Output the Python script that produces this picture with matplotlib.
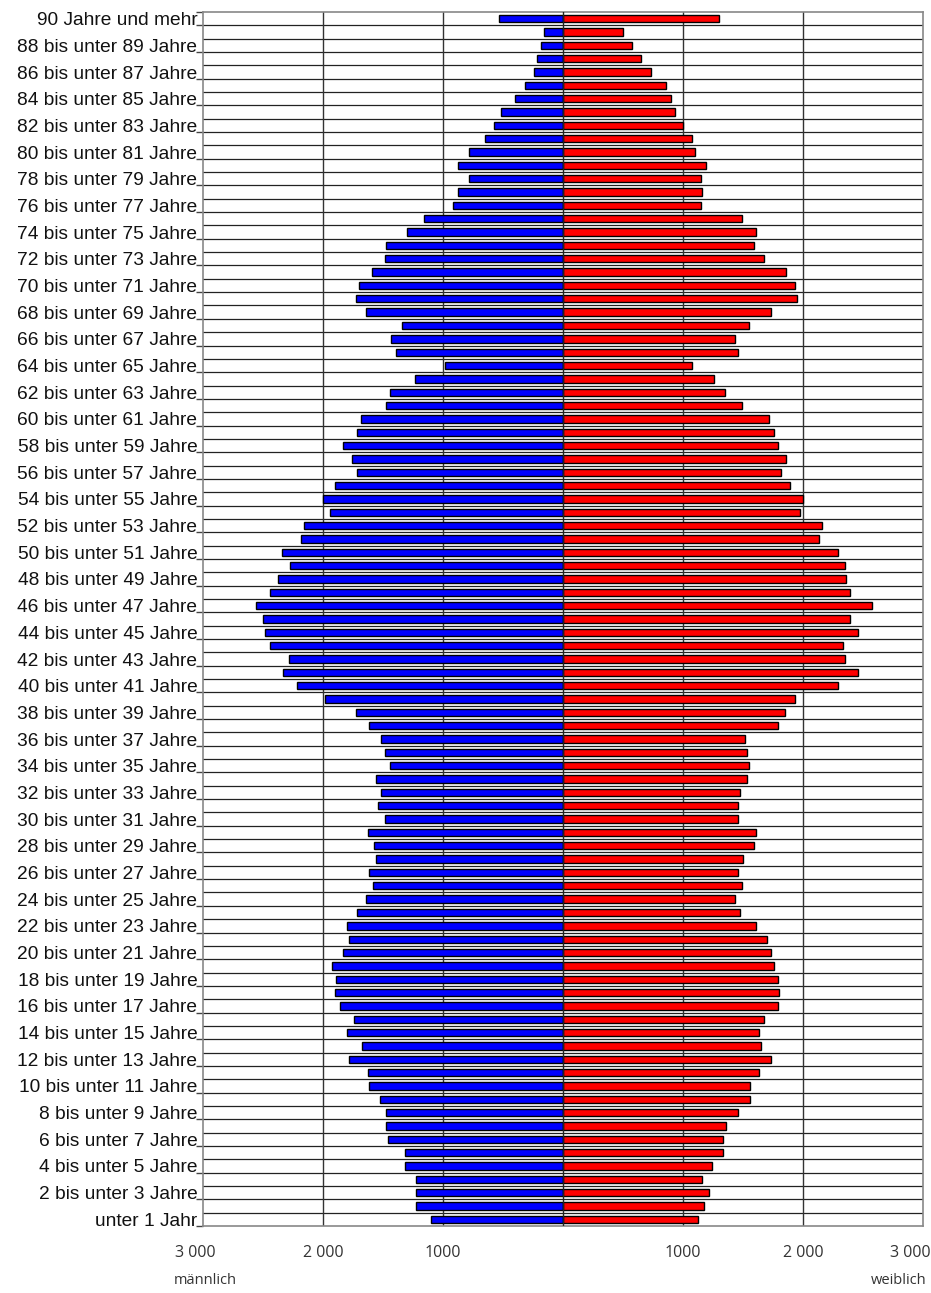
import matplotlib
matplotlib.use("Agg")
import matplotlib.pyplot as plt
import matplotlib.transforms as mtransforms
import numpy as np

# Altersgruppen (0 .. 90+)
ages = ["unter 1 Jahr"] + [f"{a} bis unter {a + 1} Jahre" for a in range(1, 90)] + ["90 Jahre und mehr"]

maennlich = [1102, 1228, 1228, 1228, 1313, 1313, 1456, 1473, 1473, 1527,
             1616, 1629, 1786, 1673, 1799, 1741, 1857, 1901, 1888, 1929,
             1830, 1786, 1799, 1714, 1643, 1585, 1616, 1558, 1571, 1629,
             1486, 1541, 1514, 1558, 1442, 1486, 1514, 1616, 1728, 1986,
             2214, 2330, 2286, 2442, 2483, 2500, 2558, 2442, 2371, 2272,
             2344, 2187, 2156, 1942, 2000, 1901, 1714, 1759, 1830, 1714,
             1687, 1473, 1442, 1231, 986, 1388, 1432, 1344, 1643, 1728,
             1701, 1588, 1486, 1473, 1299, 1156, 915, 871, 786, 871,
             786, 646, 575, 517, 401, 316, 245, 218, 187, 160,
             530]

weiblich = [1129, 1173, 1218, 1160, 1245, 1330, 1330, 1361, 1459, 1561,
            1561, 1633, 1731, 1646, 1633, 1673, 1789, 1803, 1789, 1759,
            1731, 1704, 1605, 1473, 1432, 1490, 1459, 1503, 1588, 1605,
            1459, 1459, 1473, 1531, 1548, 1531, 1517, 1789, 1847, 1932,
            2289, 2459, 2347, 2330, 2459, 2391, 2575, 2388, 2361, 2347,
            2289, 2133, 2160, 1973, 2003, 1888, 1816, 1861, 1789, 1759,
            1718, 1490, 1347, 1259, 1071, 1459, 1432, 1548, 1731, 1946,
            1932, 1861, 1677, 1588, 1605, 1490, 1146, 1160, 1146, 1190,
            1102, 1071, 1003, 932, 901, 861, 731, 646, 575, 503,
            1303]

xticks = [-3000, -2000, -1000, 1000, 2000, 3000]
xticklabels = ["3 000", "2 000", "1000", "1000", "2 000", "3 000"]

plt.rcParams['font.family'] = ['Liberation Sans', 'DejaVu Sans']

fig = plt.figure(figsize=(9.31, 12.93), dpi=100)
ax = fig.add_axes([203 / 931, 1 - 1226 / 1293, 720 / 931, 1214 / 1293])

n = len(ages)
y = np.arange(n)
m = np.array(maennlich)
w = np.array(weiblich)

# Gitterlinien zwischen den Altersgruppen
for b in np.arange(0.5, n - 1, 1.0):
    ax.axhline(b, color="#222222", lw=0.9, zorder=1)
for xv in [-2000, -1000, 1000, 2000]:
    ax.axvline(xv, color="#333333", lw=1.0, zorder=1)

ax.barh(y, -m, height=0.55, color="#0000FF", edgecolor="black", lw=1.0, zorder=3)
ax.barh(y, w, height=0.55, color="#FF0000", edgecolor="black", lw=1.0, zorder=3)
ax.axvline(0, color="#222222", lw=1.0, zorder=4)

ax.set_yticks(y[::2])
ax.set_yticklabels(ages[::2], fontsize=13.8, color="#111111")
ax.set_yticks(list(np.arange(-0.5, n - 1, 2.0)) + [n - 0.5], minor=True)
ax.tick_params(axis="y", which="major", length=0, pad=4)
ax.tick_params(axis="y", which="minor", length=5, width=1, color="#444444", direction="out")

ax.set_xticks(xticks)
ax.set_xticklabels(xticklabels, fontsize=11.5, color="#333333", family=["Open Sans", "DejaVu Sans"])
ax.tick_params(axis="x", length=0, pad=14)

# die äußeren Beschriftungen etwas nach innen rücken
labs = ax.get_xticklabels()
labs[0].set_transform(labs[0].get_transform() + mtransforms.ScaledTranslation(-8 / 100, 0, fig.dpi_scale_trans))
labs[-1].set_transform(labs[-1].get_transform() + mtransforms.ScaledTranslation(-13 / 100, 0, fig.dpi_scale_trans))

ax.set_xlim(-3000, 3000)
ax.set_ylim(-0.5, n - 0.5)

for s in ax.spines.values():
    s.set_color("#888888")
    s.set_linewidth(1.2)

fig.text(205 / 931, 1 - 1281 / 1293, "männlich", ha="center", va="center",
         fontsize=10.5, color="#333333", family=["Open Sans", "DejaVu Sans"])
fig.text(899 / 931, 1 - 1281 / 1293, "weiblich", ha="center", va="center",
         fontsize=10.5, color="#333333", family=["Open Sans", "DejaVu Sans"])

fig.savefig("out.png", dpi=100)
